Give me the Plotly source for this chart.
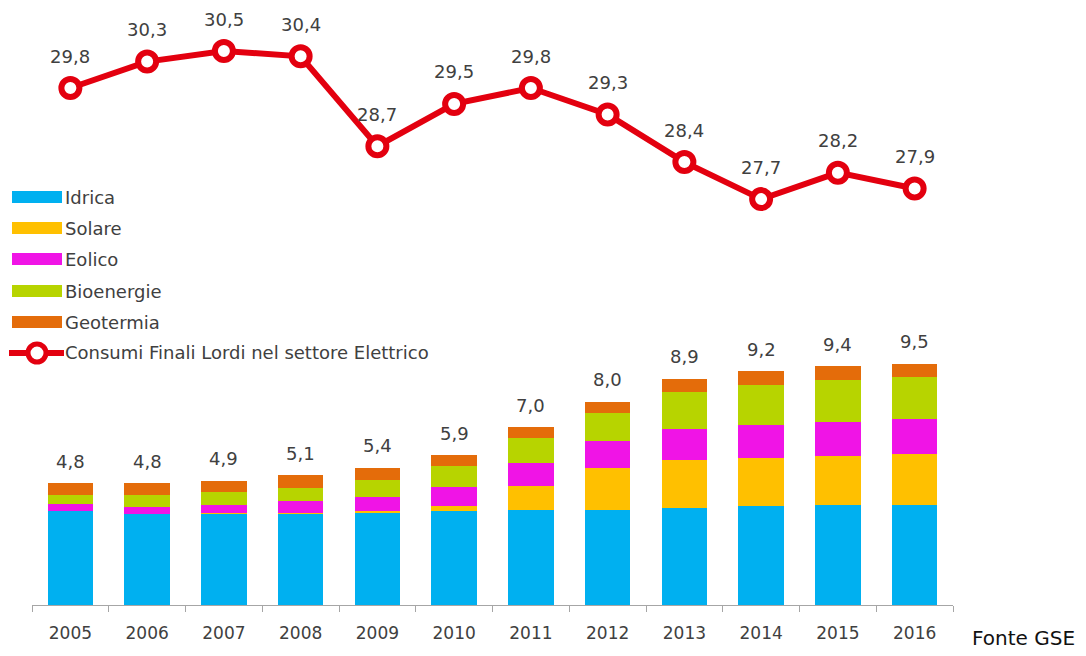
import plotly.graph_objects as go

# Anni
anni = [2005, 2006, 2007, 2008, 2009, 2010, 2011, 2012, 2013, 2014, 2015, 2016]
etichette_anni = [str(a) for a in anni]

# Consumi da fonti rinnovabili nel settore elettrico (Mtep), per fonte
idrica     = [3.70, 3.59, 3.60, 3.62, 3.66, 3.70, 3.74, 3.76, 3.83, 3.89, 3.95, 3.93]
solare     = [0.00, 0.00, 0.01, 0.02, 0.05, 0.20, 0.96, 1.64, 1.88, 1.91, 1.93, 2.00]
eolico     = [0.26, 0.28, 0.34, 0.44, 0.56, 0.76, 0.88, 1.06, 1.21, 1.28, 1.31, 1.40]
bioenergie = [0.39, 0.46, 0.49, 0.54, 0.67, 0.81, 0.99, 1.08, 1.47, 1.60, 1.67, 1.65]
geotermia  = [0.45, 0.47, 0.46, 0.48, 0.46, 0.43, 0.43, 0.46, 0.51, 0.52, 0.54, 0.52]

# Consumi finali lordi nel settore elettrico (Mtep)
consumi_lordi = [29.8, 30.3, 30.5, 30.4, 28.7, 29.5, 29.8, 29.3, 28.4, 27.7, 28.2, 27.9]

fonti = [
    ("Idrica", idrica, "#00B0F0"),
    ("Solare", solare, "#FFC000"),
    ("Eolico", eolico, "#F014E6"),
    ("Bioenergie", bioenergie, "#B7D400"),
    ("Geotermia", geotermia, "#E46C0A"),
]
nome_linea = "Consumi Finali Lordi nel settore Elettrico"
ROSSO = "#E3000F"
GRIGIO = "#404040"
FONT = "DejaVu Sans"

W, H = 1086, 656
ML, MR, MT, MB = 32, 133, 10, 51
PW, PH = W - ML - MR, H - MT - MB
BASE = H - MB  # pixel row of the category axis


def fmt(v):
    return f"{v:.1f}".replace(".", ",")


def px_x(px):
    return (px - ML) / PW


def px_y(py):
    return (BASE - py) / PH


fig = go.Figure()

for nome, valori, colore in fonti:
    fig.add_trace(go.Bar(
        x=anni, y=valori, name=nome,
        marker=dict(color=colore, line=dict(width=0)),
        showlegend=False, hoverinfo="skip",
    ))

fig.add_trace(go.Scatter(
    x=anni, y=consumi_lordi, name=nome_linea, yaxis="y2",
    mode="lines+markers",
    line=dict(color=ROSSO, width=6),
    marker=dict(symbol="circle", size=18, color="white",
                line=dict(color=ROSSO, width=6)),
    showlegend=False, hoverinfo="skip",
))

annotations = []

# Totale delle rinnovabili sopra ogni barra
totali = [sum(v) for v in zip(idrica, solare, eolico, bioenergie, geotermia)]
for anno, tot in zip(anni, totali):
    annotations.append(dict(
        x=anno, y=tot, xref="x", yref="y", text=fmt(tot),
        showarrow=False, yanchor="middle", yshift=22,
        font=dict(family=FONT, size=18, color=GRIGIO),
    ))

# Valori della linea dei consumi lordi
for anno, v in zip(anni, consumi_lordi):
    annotations.append(dict(
        x=anno, y=v, xref="x", yref="y2", text=fmt(v),
        showarrow=False, yanchor="middle", yshift=32,
        font=dict(family=FONT, size=18, color=GRIGIO),
    ))

# Legenda disegnata a mano (campioni larghi)
shapes = []
righe = [197, 228, 259, 291, 322, 353]
for (nome, _, colore), ry in zip(fonti, righe):
    shapes.append(dict(
        type="rect", xref="paper", yref="paper",
        x0=px_x(12), x1=px_x(62), y0=px_y(ry + 6), y1=px_y(ry - 6),
        fillcolor=colore, line=dict(width=0),
    ))
    annotations.append(dict(
        x=px_x(63), y=px_y(ry), xref="paper", yref="paper", text=nome,
        showarrow=False, xanchor="left", yanchor="middle",
        font=dict(family=FONT, size=18, color=GRIGIO),
    ))

ry = righe[-1]
shapes.append(dict(
    type="line", xref="paper", yref="paper",
    x0=px_x(9), x1=px_x(64), y0=px_y(ry), y1=px_y(ry),
    line=dict(color=ROSSO, width=6),
))
shapes.append(dict(
    type="circle", xref="paper", yref="paper",
    x0=px_x(28), x1=px_x(46), y0=px_y(ry + 9), y1=px_y(ry - 9),
    fillcolor="white", line=dict(color=ROSSO, width=5),
))
annotations.append(dict(
    x=px_x(63), y=px_y(ry), xref="paper", yref="paper", text=nome_linea,
    showarrow=False, xanchor="left", yanchor="middle",
    font=dict(family=FONT, size=18, color=GRIGIO),
))

# Fonte
annotations.append(dict(
    x=px_x(970), y=px_y(638), xref="paper", yref="paper", text="Fonte GSE",
    showarrow=False, xanchor="left", yanchor="middle",
    font=dict(family=FONT, size=20, color="#111111"),
))

# Scale: barre a 25,4 px per unità, linea a 52,9 px per unità
bar_scale = 25.4
line_scale = 52.9
y2_min = 30.5 - (BASE - 51) / line_scale

confini = [a - 0.5 for a in anni] + [anni[-1] + 0.5]

fig.update_layout(
    width=W, height=H,
    margin=dict(l=ML, r=MR, t=MT, b=MB),
    paper_bgcolor="white", plot_bgcolor="white",
    barmode="stack", bargap=0.41,
    xaxis=dict(
        type="linear", range=[anni[0] - 0.5, anni[-1] + 0.5],
        showgrid=False, zeroline=False,
        showline=True, linecolor="#A6A6A6", linewidth=1,
        tickmode="array", tickvals=anni, ticktext=etichette_anni,
        ticks="", ticklabelstandoff=13,
        tickfont=dict(family=FONT, size=17, color=GRIGIO),
        minor=dict(tickmode="array", tickvals=confini, ticks="outside",
                   ticklen=6, tickcolor="#A6A6A6", showgrid=False),
    ),
    yaxis=dict(visible=False, range=[0, PH / bar_scale]),
    yaxis2=dict(visible=False, overlaying="y",
                range=[y2_min, y2_min + PH / line_scale]),
    annotations=annotations,
    shapes=shapes,
    showlegend=False,
)

fig.write_html("out.html")
